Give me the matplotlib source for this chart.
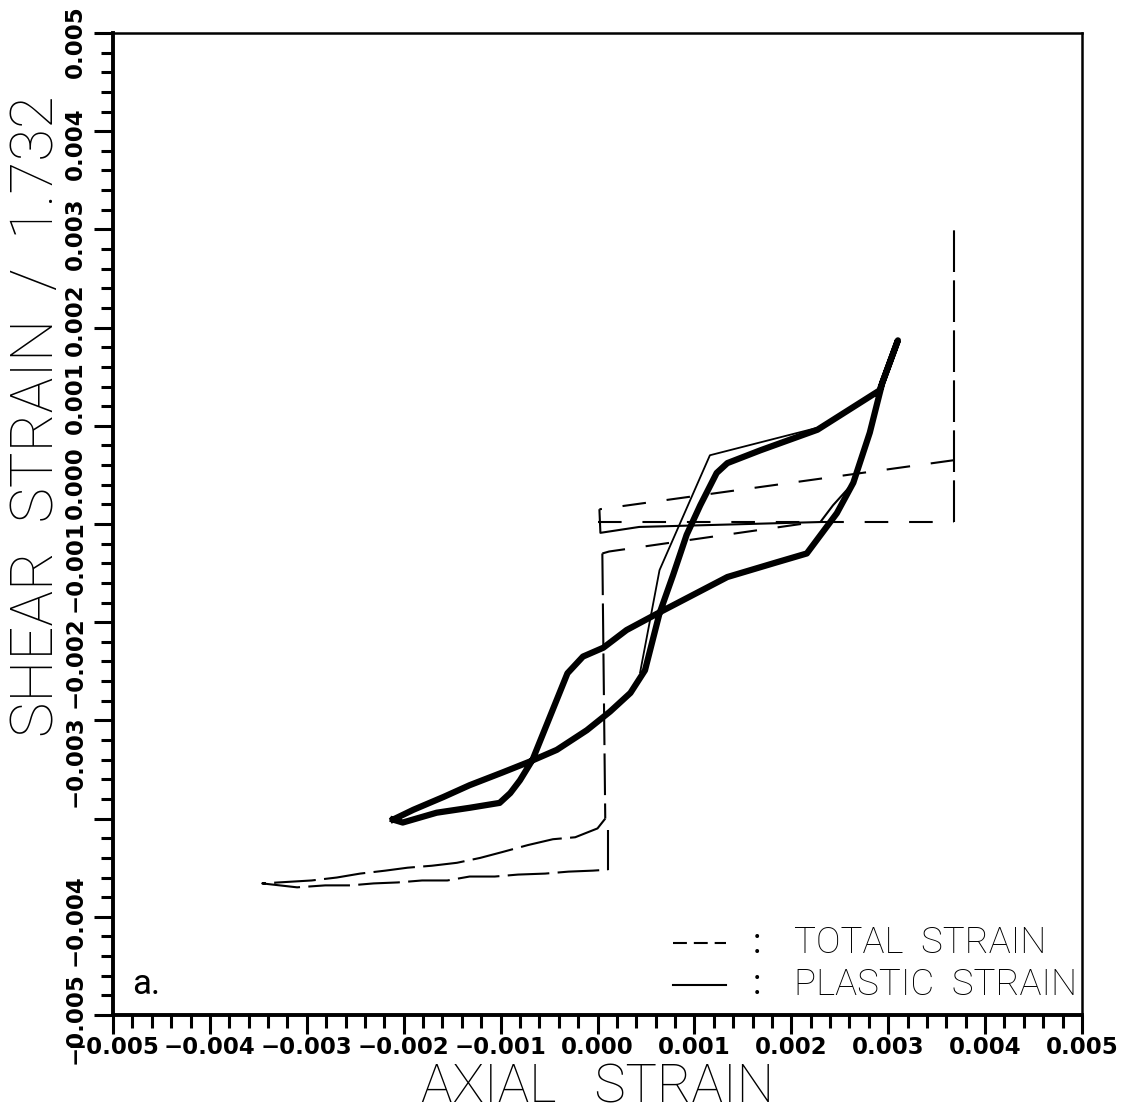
import numpy as np
import matplotlib
matplotlib.use("Agg")
import matplotlib.pyplot as plt
import matplotlib.transforms as mtransforms

plt.rcParams['lines.scale_dashes'] = False

# total strain path pieces (units of 1e-3)
t1_x = [0.0, 3.68]
t1_y = [0.02, 0.02]
t2_x = [3.68, 3.68]
t2_y = [0.02, 3.0]
t3_x = [3.68, 0.02]
t3_y = [0.65, 0.15]
t4_x = [2.1, 0.12, 0.05]
t4_y = [0.0, -0.28, -0.30]
t5_x = [0.05, 0.08]
t5_y = [-0.30, -3.0]
t6_x = [0.08, 0.0, -0.23, -0.46, -0.72, -0.98, -1.21, -1.45, -1.71, -1.96, -2.19, -2.45, -2.69, -2.95, -3.46,
        -3.1, -2.81, -2.55, -2.31, -2.06, -1.81, -1.55, -1.32, -1.06, -0.82, -0.54, -0.30, -0.05, 0.11]
t6_y = [-3.0, -3.10, -3.19, -3.21, -3.27, -3.34, -3.40, -3.45, -3.48, -3.50, -3.53, -3.56, -3.60, -3.63, -3.66,
        -3.70, -3.68, -3.68, -3.66, -3.65, -3.63, -3.63, -3.59, -3.59, -3.57, -3.56, -3.54, -3.53, -3.52]
t7_x = [0.11, 0.11]
t7_y = [-3.52, -3.12]
total_pieces = [(t1_x, t1_y), (t2_x, t2_y), (t3_x, t3_y), (t4_x, t4_y),
                (t5_x, t5_y), (t6_x, t6_y), (t7_x, t7_y)]

# plastic strain: first loading and first unloading (thin)
p0_x = [0.02, 0.03, 0.43, 2.30, 2.43, 2.64, 2.81, 2.94, 3.10]
p0_y = [0.14, -0.09, -0.03, 0.02, 0.19, 0.42, 0.93, 1.44, 1.87]
p1_x = [3.10, 2.91, 2.27, 1.16, 0.64, 0.44]
p1_y = [1.87, 1.36, 0.98, 0.70, -0.47, -1.51]

# plastic strain: repeated cycles (thick), starting at the lower-left tip
cyc_x = [-2.11, -1.90, -1.59, -1.32, -0.98, -0.70, -0.42, -0.11, 0.13, 0.34, 0.49,
         0.64, 0.78, 0.92, 1.06, 1.23, 1.34, 1.68, 2.27, 2.91, 3.10,
         2.94, 2.81, 2.64, 2.47, 2.16, 1.85, 1.34, 0.64, 0.30, 0.06, -0.15, -0.31,
         -0.67, -0.80, -0.90, -1.01, -1.32, -1.66, -2.01, -2.11]
cyc_y = [-3.01, -2.91, -2.78, -2.66, -2.53, -2.42, -2.30, -2.10, -1.91, -1.72, -1.49,
         -0.91, -0.52, -0.11, 0.19, 0.52, 0.62, 0.75, 0.96, 1.36, 1.87,
         1.44, 0.93, 0.42, 0.11, -0.30, -0.39, -0.54, -0.90, -1.08, -1.26, -1.35, -1.52,
         -2.40, -2.61, -2.74, -2.84, -2.89, -2.94, -3.04, -3.01]

ticks = np.arange(-0.005, 0.0051, 0.001)
tick_labels = ['-0.005', '-0.004', '-0.003', '-0.002', '-0.001', '0.000',
               '0.001', '0.002', '0.003', '0.004', '0.005']
tick_labels = [s.replace('-', '\u2212') for s in tick_labels]
# the y labels of the original are not centred on their ticks (pixels, + = down)
ylab_shift = [3, 3, -57, -58, -56, -41, -28, -8, 4, 12, 9]

label_font = ['Roboto', 'DejaVu Sans']

fig = plt.figure(figsize=(11.4, 11.14), dpi=100)
ax = fig.add_axes([113 / 1140, 99 / 1114, 969 / 1140, 982 / 1114])

short = (0, (17, 15))
long_ = (0, (30, 6))
for px, py in total_pieces:
    px = np.array(px) * 1e-3
    py = np.array(py) * 1e-3
    vertical = abs(px[-1] - px[0]) < 2e-4
    ax.plot(px, py, color='black', lw=1.5, linestyle=long_ if vertical else short)

ax.plot(np.array(p0_x) * 1e-3, np.array(p0_y) * 1e-3, color='black', lw=1.5)
ax.plot(np.array(p1_x) * 1e-3, np.array(p1_y) * 1e-3, color='black', lw=1.3)
ax.plot(np.array(cyc_x) * 1e-3, np.array(cyc_y) * 1e-3, color='black', lw=4.5,
        solid_joinstyle='round')

ax.set_xlim(-0.005, 0.005)
ax.set_ylim(-0.005, 0.005)
ax.set_xticks(ticks)
ax.set_yticks(ticks)
ax.set_xticks(np.arange(-0.005, 0.0051, 0.0002), minor=True)
ax.set_yticks(np.arange(-0.005, 0.0051, 0.0002), minor=True)
ax.set_xticklabels(tick_labels, fontsize=16.5, fontweight='bold')
ax.set_yticklabels(tick_labels, fontsize=16.5, fontweight='bold', rotation=90, va='center')
ax.tick_params(which='major', direction='out', length=14, width=2.2)
ax.tick_params(which='minor', direction='out', length=9, width=2.2)
ax.tick_params(axis='x', which='major', pad=1)
ax.tick_params(axis='y', which='major', pad=5)
for lab, sh in zip(ax.get_yticklabels(), ylab_shift):
    lab.set_transform(lab.get_transform() +
                      mtransforms.ScaledTranslation(0, -sh / 100, fig.dpi_scale_trans))
for s in ['left', 'bottom']:
    ax.spines[s].set_linewidth(2.8)
for s in ['top', 'right']:
    ax.spines[s].set_linewidth(1.8)

ax.set_xlabel('AXIAL   STRAIN', fontsize=38, labelpad=2, family=label_font, fontweight='light')
ax.set_ylabel('SHEAR  STRAIN  /  1.732', fontsize=43, family=label_font, fontweight='light')
ax.yaxis.set_label_coords(-0.05, 0.61)

ax.text(0.02, 0.031, 'a.', transform=ax.transAxes, fontsize=25, va='center',
        family=label_font)
ax.plot([0.578, 0.633], [0.073, 0.073], transform=ax.transAxes, color='black', lw=1.5,
        linestyle=(0, (10, 5)))
ax.plot([0.578, 0.633], [0.031, 0.031], transform=ax.transAxes, color='black', lw=1.5)
for yy, txt in [(0.073, 'TOTAL  STRAIN'), (0.031, 'PLASTIC  STRAIN')]:
    ax.text(0.665, yy, ':', transform=ax.transAxes, fontsize=25, va='center', ha='center',
            family=label_font)
    ax.text(0.703, yy, txt, transform=ax.transAxes, fontsize=26.5, va='center',
            family=label_font, fontweight='light')

fig.savefig('out.png', dpi=100)
